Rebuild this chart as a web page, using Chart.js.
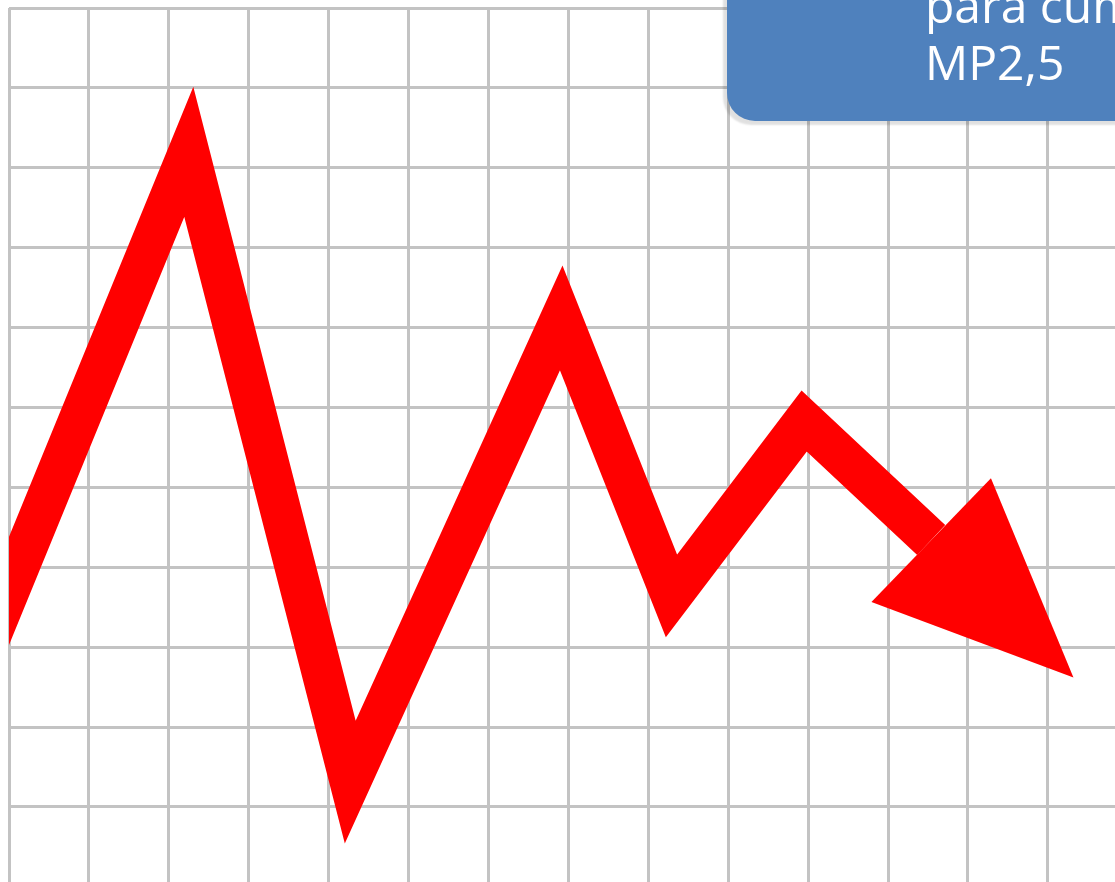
<!DOCTYPE html>
<html lang="es">
<head>
<meta charset="utf-8">
<title>Tendencia MP2,5</title>
<script src="https://cdn.jsdelivr.net/npm/chart.js@4"></script>
<style>
  html, body { margin: 0; padding: 0; background: #ffffff; overflow: hidden; }
  .stage { position: relative; width: 1115px; height: 882px; overflow: hidden; }
  canvas { position: absolute; left: 0; top: 0; }
  .callout {
    position: absolute; left: 727px; top: -40px; width: 500px; height: 161px;
    background: #4f81bd; border-bottom-left-radius: 28px;
    box-shadow: -4px 4px 2px rgba(0,0,0,0.12);
  }
  .callout-text {
    position: absolute; left: 925px; top: -24px;
    font-family: 'Open Sans', sans-serif; font-size: 48px; line-height: 57px;
    color: #ffffff; white-space: nowrap;
  }
</style>
</head>
<body>
<div class="stage">
  <canvas id="chart-tendencia" width="1115" height="882"></canvas>
  <div class="callout"></div>
  <div class="callout-text">para cumplir<br>MP2,5</div>
</div>
<script>
/* ── Datos (unidades de la cuadrícula) ── */
const lineX = [-0.30, 2.25, 4.27, 6.91, 8.29, 9.95, 11.54];
const lineY = [2.97, 9.20, 1.31, 7.12, 3.64, 5.83, 4.34];
const arrowTipX = [13.32];
const arrowTipY = [2.62];
const gridTicksX = [0, 1, 2, 3, 4, 5, 6, 7, 8, 9, 10, 11, 12, 13];
const gridTicksY = [1, 2, 3, 4, 5, 6, 7, 8, 9, 10, 11];

const RED = '#ff0000';
const GRID = '#c3c3c3';

// Punta de flecha al final de la línea
const arrowHead = {
  id: 'arrowHead',
  afterDatasetsDraw(chart) {
    const meta = chart.getDatasetMeta(0);
    const last = meta.data[meta.data.length - 1];
    if (!last) return;
    const xs = chart.scales.x, ys = chart.scales.y;
    const tx = xs.getPixelForValue(arrowTipX[0]);
    const ty = ys.getPixelForValue(arrowTipY[0]);
    const dx = tx - last.x, dy = ty - last.y;
    const len = Math.hypot(dx, dy);
    const px = -dy / len, py = dx / len;
    const half = 86;
    const ctx = chart.ctx, a = chart.chartArea;
    ctx.save();
    ctx.beginPath();
    ctx.rect(a.left, a.top, a.right - a.left, a.bottom - a.top);
    ctx.clip();
    ctx.beginPath();
    ctx.moveTo(tx, ty);
    ctx.lineTo(last.x + px * half, last.y + py * half);
    ctx.lineTo(last.x - px * half, last.y - py * half);
    ctx.closePath();
    ctx.fillStyle = RED;
    ctx.fill();
    ctx.restore();
  }
};

const ctx = document.getElementById('chart-tendencia');
new Chart(ctx, {
  type: 'line',
  data: {
    datasets: [{
      data: lineX.map((x, i) => ({ x, y: lineY[i] })),
      borderColor: RED,
      borderWidth: 41,
      borderJoinStyle: 'miter',
      borderCapStyle: 'butt',
      tension: 0,
      pointRadius: 0,
      fill: false,
      clip: 0
    }]
  },
  options: {
    responsive: false,
    animation: false,
    layout: { padding: { left: 9, top: 8, right: 0, bottom: 0 } },
    plugins: { legend: { display: false }, tooltip: { enabled: false } },
    scales: {
      x: {
        type: 'linear', min: 0, max: 13.84,
        afterBuildTicks: s => { s.ticks = gridTicksX.map(v => ({ value: v })); },
        ticks: { display: false },
        grid: { color: GRID, lineWidth: 3, drawTicks: false },
        border: { display: false }
      },
      y: {
        type: 'linear', min: 0.06, max: 11,
        afterBuildTicks: s => { s.ticks = gridTicksY.map(v => ({ value: v })); },
        ticks: { display: false },
        grid: { color: GRID, lineWidth: 3, drawTicks: false },
        border: { display: false }
      }
    }
  },
  plugins: [arrowHead]
});
</script>
</body>
</html>
